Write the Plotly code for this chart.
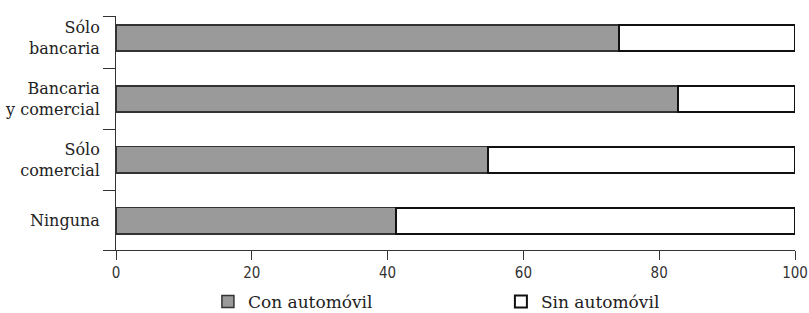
import plotly.graph_objects as go

categories = ["Ninguna", "Sólo<br>comercial", "Bancaria<br>y comercial", "Sólo<br>bancaria"]
con_auto = [41.2, 54.8, 82.7, 74.1]
sin_auto = [100 - v for v in con_auto]
x_ticks = [0, 20, 40, 60, 80, 100]
series_names = ["Con automóvil", "Sin automóvil"]

ypos = list(range(len(categories)))
bar_w = 0.43

fig = go.Figure()
fig.add_trace(go.Bar(
    y=ypos, x=con_auto, orientation="h", name=series_names[0], width=bar_w,
    marker=dict(color="#9a9a9a", line=dict(color="#333333", width=1.5)),
))
fig.add_trace(go.Bar(
    y=ypos, x=sin_auto, orientation="h", name=series_names[1], width=bar_w,
    marker=dict(color="#ffffff", line=dict(color="#111111", width=2)),
))

y_lo, y_hi = -0.48, 3.36
boundaries = [y_lo] + [i + 0.5 for i in range(len(categories) - 1)] + [y_hi]

fig.update_layout(
    barmode="stack",
    width=809, height=313,
    margin=dict(l=116, r=14, t=16, b=63),
    plot_bgcolor="white", paper_bgcolor="white",
    showlegend=True,
    legend=dict(
        orientation="h", xref="container", yref="container",
        x=0.257, xanchor="left", y=0.035, yanchor="middle",
        font=dict(family="DejaVu Serif", size=17, color="#222222"),
        entrywidth=248, entrywidthmode="pixels",
        traceorder="normal",
    ),
    xaxis=dict(
        range=[0, 100], tickvals=x_ticks, ticktext=[str(v) for v in x_ticks],
        ticks="outside", ticklen=9, tickcolor="#333333", tickwidth=1,
        showline=True, linecolor="#333333", linewidth=1,
        showgrid=False, zeroline=False, automargin=False,
        tickfont=dict(family="Liberation Sans Narrow, DejaVu Sans Condensed, Liberation Sans", size=15, color="#333333"),
    ),
    yaxis=dict(
        range=[y_lo, y_hi], tickvals=ypos, ticktext=categories,
        ticks="outside", ticklen=12, tickcolor="rgba(0,0,0,0)",
        showline=True, linecolor="#333333", linewidth=1,
        showgrid=False, zeroline=False, automargin=False,
        tickfont=dict(family="DejaVu Serif", size=16, color="#222222"),
        minor=dict(tickvals=boundaries, ticks="outside", ticklen=12,
                   tickcolor="#333333", tickwidth=1, showgrid=False),
    ),
)

fig.write_html(
    "out.html",
    config={"displayModeBar": False},
    post_script="document.body.style.margin='0';document.body.style.overflow='hidden';",
)
